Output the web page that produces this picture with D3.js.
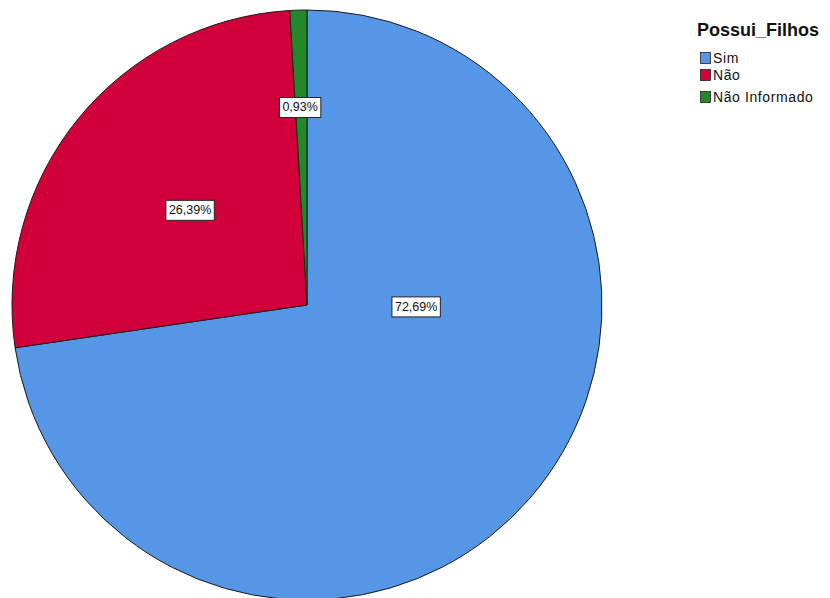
<!DOCTYPE html>
<html>
<head>
<meta charset="utf-8">
<script src="https://cdn.jsdelivr.net/npm/d3@7"></script>
<style>
  html, body { margin: 0; padding: 0; background: #fff; }
  svg { display: block; }
</style>
</head>
<body>
<svg id="chart" width="830" height="598"></svg>
<script>
// Distribution of respondents by "Possui_Filhos"
const categories = ["Sim", "Não", "Não Informado"];
const percents = [72.69, 26.39, 0.93];
const colors = ["#5597e6", "#d2003a", "#24872a"];
const legendTitle = "Possui_Filhos";

// label placement for each slice: [angle in degrees clockwise from top, fraction of radius]
const labelPlacement = [[91, 0.37], [309, 0.51], [358, 0.67]];

const svg = d3.select("#chart");
const cx = 307, cy = 305, R = 295;

const pie = d3.pie().sort(null).value(d => d.value);
const arcs = pie(categories.map((c, i) => ({ name: c, value: percents[i], color: colors[i] })));
const arc = d3.arc().innerRadius(0).outerRadius(R);

const g = svg.append("g").attr("transform", `translate(${cx},${cy})`);

g.selectAll("path.slice")
  .data(arcs)
  .enter().append("path")
  .attr("class", "slice")
  .attr("d", arc)
  .attr("fill", d => d.data.color)
  .attr("stroke", "#1a1a1a")
  .attr("stroke-width", 1);

const fmt = v => d3.format(".2f")(v).replace(".", ",") + "%";

const labels = g.selectAll("g.lbl")
  .data(arcs)
  .enter().append("g")
  .attr("class", "lbl")
  .attr("transform", (d, i) => {
    const a = labelPlacement[i][0] * Math.PI / 180;
    const r = labelPlacement[i][1] * R;
    return `translate(${r * Math.sin(a)},${-r * Math.cos(a)})`;
  });

labels.each(function(d) {
  const sel = d3.select(this);
  const t = sel.append("text")
    .attr("text-anchor", "middle")
    .attr("dominant-baseline", "central")
    .attr("font-family", "Arial, 'Liberation Sans', sans-serif")
    .attr("font-size", 12.5)
    .attr("fill", "#111")
    .text(fmt(d.data.value));
  const bb = t.node().getBBox();
  sel.insert("rect", "text")
    .attr("x", bb.x - 3)
    .attr("y", -10)
    .attr("width", bb.width + 6)
    .attr("height", 20)
    .attr("fill", "#fff")
    .attr("stroke", "#222")
    .attr("stroke-width", 1);
});

// legend
const lg = svg.append("g").attr("transform", "translate(697,0)");
lg.append("text")
  .attr("x", 0).attr("y", 36)
  .attr("font-family", "Arial, 'Liberation Sans', sans-serif")
  .attr("font-size", 18)
  .attr("font-weight", "bold")
  .attr("fill", "#111")
  .text(legendTitle);

const itemYs = [58, 75, 97];
const items = lg.selectAll("g.item")
  .data(categories)
  .enter().append("g")
  .attr("class", "item")
  .attr("transform", (d, i) => `translate(0,${itemYs[i]})`);

items.append("rect")
  .attr("x", 3.5).attr("y", -5.5)
  .attr("width", 10).attr("height", 11)
  .attr("fill", (d, i) => colors[i])
  .attr("stroke", "#222")
  .attr("stroke-width", 0.8);

items.append("text")
  .attr("x", 16).attr("y", 0)
  .attr("dominant-baseline", "central")
  .attr("font-family", "Arial, 'Liberation Sans', sans-serif")
  .attr("font-size", 14)
  .attr("letter-spacing", 0.6)
  .attr("fill", "#111")
  .text(d => d);
</script>
</body>
</html>
